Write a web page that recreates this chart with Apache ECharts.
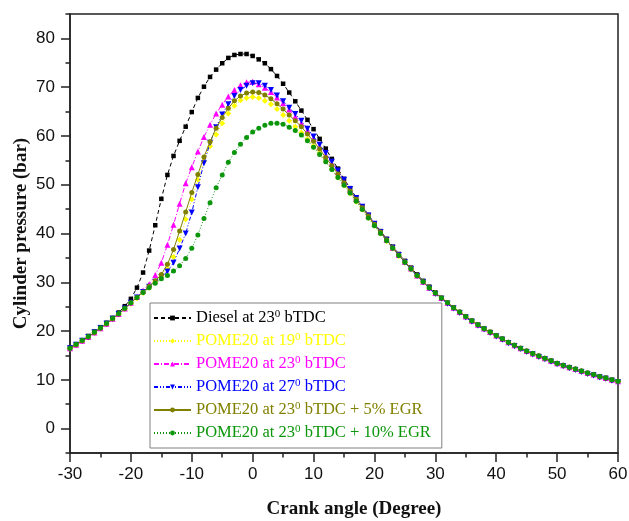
<!DOCTYPE html>
<html>
<head>
<meta charset="utf-8">
<script src="https://cdn.jsdelivr.net/npm/echarts@6/dist/echarts.min.js"></script>
<style>
  html, body { margin: 0; padding: 0; background: #fff; }
  #chart { width: 629px; height: 521px; }
</style>
</head>
<body>
<div id="chart"></div>
<script>
// Crank angle, degrees (one reading per degree)
var crankAngle = [
  -30, -29, -28, -27, -26, -25, -24, -23, -22, -21, -20, -19,
  -18, -17, -16, -15, -14, -13, -12, -11, -10, -9, -8, -7, -6, -5, -4, -3, -2, -1,
  0, 1, 2, 3, 4, 5, 6, 7, 8, 9, 10, 11, 12, 13, 14, 15, 16, 17, 18, 19, 20,
  21, 22, 23, 24, 25, 26, 27, 28, 29, 30,
  31, 32, 33, 34, 35, 36, 37, 38, 39, 40, 41, 42, 43, 44, 45,
  46, 47, 48, 49, 50, 51, 52, 53, 54, 55, 56, 57, 58, 59, 60
];

// Cylinder pressure, bar
var dieselInj23 = [
  16.6, 17.3, 18.1, 19.0, 19.9, 20.8, 21.7, 22.7, 23.8, 25.1, 26.6, 28.9,
  32.0, 36.5, 41.7, 47.1, 52.0, 55.9, 59.0, 61.9, 64.9, 67.8, 70.1, 72.1, 73.6, 74.9, 76.0, 76.6, 76.8, 76.8,
  76.4, 75.7, 74.9, 73.7, 72.3, 70.7, 68.9, 67.1, 65.2, 63.3, 61.4, 59.4, 57.4, 55.3, 53.3, 51.2, 49.3, 47.4, 45.6, 43.8, 42.1,
  40.5, 38.9, 37.3, 35.8, 34.4, 33.0, 31.6, 30.3, 29.1, 27.9,
  26.8, 25.8, 24.8, 23.9, 23.0, 22.1, 21.3, 20.5, 19.8, 19.1, 18.4, 17.7, 17.1, 16.5, 15.9,
  15.4, 14.9, 14.4, 13.9, 13.4, 13.0, 12.6, 12.2, 11.8, 11.4, 11.1, 10.7, 10.4, 10.0, 9.7
];
var pomeInj19 = [
  16.4, 17.1, 17.9, 18.7, 19.6, 20.5, 21.4, 22.4, 23.4, 24.5, 25.6, 26.7,
  27.8, 28.9, 30.0, 31.3, 32.8, 35.2, 38.7, 42.9, 47.0, 51.0, 54.8, 57.9, 60.3, 62.6, 64.6, 66.2, 67.3, 67.8,
  68.0, 67.8, 67.2, 66.5, 65.5, 64.3, 63.1, 61.9, 60.7, 59.3, 57.9, 56.4, 54.8, 53.2, 51.5, 49.9, 48.2, 46.5, 44.9, 43.2, 41.6,
  40.0, 38.4, 36.9, 35.4, 34.0, 32.6, 31.3, 30.0, 28.8, 27.7,
  26.7, 25.7, 24.7, 23.8, 22.9, 22.0, 21.2, 20.4, 19.7, 19.0, 18.3, 17.6, 17.0, 16.4, 15.8,
  15.3, 14.8, 14.3, 13.8, 13.3, 12.9, 12.5, 12.1, 11.7, 11.3, 11.0, 10.6, 10.3, 9.9, 9.6
];
var pomeInj23 = [
  16.5, 17.2, 18.0, 18.8, 19.7, 20.6, 21.5, 22.5, 23.5, 24.6, 25.8, 27.0,
  28.3, 29.6, 31.5, 34.0, 37.7, 41.8, 46.1, 50.3, 53.6, 56.8, 59.8, 62.3, 64.6, 66.4, 68.1, 69.4, 70.4, 71.0,
  71.1, 70.6, 69.9, 69.0, 67.9, 66.7, 65.4, 64.0, 62.6, 61.1, 59.5, 57.8, 56.1, 54.4, 52.6, 50.8, 49.0, 47.2, 45.4, 43.7, 42.0,
  40.3, 38.7, 37.1, 35.6, 34.2, 32.8, 31.4, 30.1, 28.9, 27.8,
  26.8, 25.8, 24.8, 23.9, 23.0, 22.1, 21.3, 20.5, 19.8, 19.1, 18.4, 17.7, 17.1, 16.5, 15.9,
  15.4, 14.9, 14.4, 13.9, 13.4, 13.0, 12.6, 12.2, 11.8, 11.4, 11.1, 10.7, 10.4, 10.0, 9.7
];
var pomeInj27 = [
  16.5, 17.2, 18.0, 18.8, 19.7, 20.6, 21.5, 22.5, 23.5, 24.6, 25.8, 26.9,
  28.0, 29.1, 30.1, 31.1, 32.2, 34.0, 36.9, 40.0, 44.3, 49.5, 54.4, 58.6, 61.8, 64.4, 66.5, 68.2, 69.4, 70.3,
  70.8, 70.8, 70.3, 69.4, 68.3, 67.1, 65.8, 64.5, 63.1, 61.5, 59.9, 58.2, 56.5, 54.7, 52.9, 51.0, 49.1, 47.3, 45.5, 43.7, 42.0,
  40.3, 38.7, 37.1, 35.6, 34.1, 32.7, 31.3, 30.0, 28.8, 27.6,
  26.6, 25.6, 24.6, 23.7, 22.8, 21.9, 21.1, 20.3, 19.6, 18.9, 18.2, 17.5, 16.9, 16.3, 15.7,
  15.2, 14.7, 14.2, 13.7, 13.2, 12.8, 12.4, 12.0, 11.6, 11.2, 10.9, 10.5, 10.2, 9.8, 9.5
];
var pomeEgr5 = [
  16.5, 17.2, 18.0, 18.8, 19.7, 20.6, 21.5, 22.5, 23.5, 24.6, 25.8, 26.9,
  28.0, 29.2, 30.3, 31.6, 33.7, 36.7, 40.5, 44.4, 48.4, 52.1, 55.7, 58.8, 61.6, 63.8, 65.7, 67.2, 68.2, 68.8,
  69.0, 68.9, 68.4, 67.6, 66.6, 65.5, 64.3, 63.1, 61.9, 60.4, 58.9, 57.3, 55.6, 53.9, 52.2, 50.4, 48.7, 47.0, 45.3, 43.6, 41.9,
  40.3, 38.7, 37.1, 35.6, 34.2, 32.8, 31.4, 30.1, 28.9, 27.8,
  26.8, 25.8, 24.8, 23.9, 23.0, 22.1, 21.3, 20.5, 19.8, 19.1, 18.4, 17.7, 17.1, 16.5, 15.9,
  15.4, 14.9, 14.4, 13.9, 13.4, 13.0, 12.6, 12.2, 11.8, 11.4, 11.1, 10.7, 10.4, 10.0, 9.7
];
var pomeEgr10 = [
  16.5, 17.3, 18.1, 18.9, 19.8, 20.7, 21.6, 22.6, 23.6, 24.7, 25.8, 26.9,
  27.9, 28.9, 29.8, 30.7, 31.4, 32.3, 33.4, 34.9, 37.0, 39.7, 43.1, 46.3, 49.4, 52.0, 54.6, 56.6, 58.3, 59.7,
  60.8, 61.6, 62.2, 62.6, 62.6, 62.4, 61.8, 61.1, 60.2, 59.0, 57.7, 56.2, 54.7, 53.1, 51.5, 49.9, 48.3, 46.6, 44.9, 43.2, 41.6,
  40.0, 38.5, 37.0, 35.5, 34.1, 32.7, 31.4, 30.1, 28.9, 27.8,
  26.8, 25.8, 24.8, 23.9, 23.0, 22.1, 21.3, 20.5, 19.8, 19.1, 18.4, 17.7, 17.1, 16.5, 15.9,
  15.4, 14.9, 14.4, 13.9, 13.4, 13.0, 12.6, 12.2, 11.8, 11.4, 11.1, 10.7, 10.4, 10.0, 9.7
];

var seriesNames = [
  'Diesel at 23^0 bTDC',
  'POME20 at 19^0 bTDC',
  'POME20 at 23^0 bTDC',
  'POME20 at 27^0 bTDC',
  'POME20 at 23^0 bTDC + 5% EGR',
  'POME20 at 23^0 bTDC + 10% EGR'
];
var yTickValues = [0, 10, 20, 30, 40, 50, 60, 70, 80];
var yMinorTickValues = [-5, 5, 15, 25, 35, 45, 55, 65, 75, 85];

function pairs(values) {
  return crankAngle.map(function (a, i) { return [a, values[i]]; });
}

var styles = [
  { data: dieselInj23, color: '#000000', symbol: 'rect', size: 4.5, dash: [4, 3] },
  { data: pomeInj19,   color: '#ffff00', symbol: 'diamond', size: 6, dash: [1, 2] },
  { data: pomeInj23,   color: '#ff00ff', symbol: 'triangle', size: 6, dash: [5, 2, 1, 2] },
  { data: pomeInj27,   color: '#0000ff', symbol: 'path://M0,0 L10,0 L5,9 Z', size: 6, dash: [4, 2, 1, 2, 1, 2] },
  { data: pomeEgr5,    color: '#808000', symbol: 'circle', size: 5, dash: 'solid' },
  { data: pomeEgr10,   color: '#0c960c', symbol: 'circle', size: 5, dash: [1, 2] }
];

var chart = echarts.init(document.getElementById('chart'), null, { renderer: 'canvas' });

var serifFont = "'Liberation Serif', 'Times New Roman', serif";
var sansFont = "'Liberation Sans', Arial, sans-serif";

chart.setOption({
  animation: false,
  backgroundColor: '#ffffff',
  grid: {
    left: 70, right: 11, top: 14, bottom: 68,
    outerBoundsMode: 'none',
    show: true, borderColor: '#222', borderWidth: 1.5, backgroundColor: 'transparent'
  },
  legend: {
    orient: 'vertical',
    left: 150, top: 303,
    padding: [6, 11, 6, 3],
    itemGap: 5,
    itemWidth: 37,
    itemHeight: 6,
    borderColor: '#808080',
    borderWidth: 1,
    data: seriesNames.map(function (n, i) {
      return { name: n, textStyle: { color: styles[i].color } };
    }),
    formatter: function (name) { return name.replace('^0', '{sup|0}'); },
    textStyle: {
      fontFamily: serifFont,
      fontSize: 16.5,
      lineHeight: 18,
      rich: {
        sup: { fontFamily: serifFont, fontSize: 11, lineHeight: 11, verticalAlign: 'top' }
      }
    }
  },
  xAxis: [{
    type: 'value',
    min: -30, max: 60, interval: 10,
    name: 'Crank angle (Degree)',
    nameLocation: 'middle',
    nameGap: 47,
    nameMoveOverlap: false,
    nameTextStyle: { fontFamily: serifFont, fontSize: 19, fontWeight: 'bold', color: '#111', padding: [0, 0, 0, 20] },
    axisLine: { show: true, onZero: false, lineStyle: { color: '#222', width: 1.5 } },
    axisTick: { show: true, inside: false, length: 9, lineStyle: { color: '#222', width: 1.5 } },
    minorTick: { show: true, splitNumber: 2, length: 4.5, lineStyle: { color: '#222', width: 1.5 } },
    axisLabel: { fontFamily: sansFont, fontSize: 17, color: '#111', margin: 13 },
    splitLine: { show: false },
    minorSplitLine: { show: false }
  }],
  yAxis: [{
    type: 'value',
    min: -5, max: 85,
    name: 'Cylinder pressure (bar)',
    nameLocation: 'middle',
    nameGap: 39,
    nameMoveOverlap: false,
    nameTextStyle: { fontFamily: serifFont, fontSize: 19, fontWeight: 'bold', color: '#111' },
    axisLine: { show: true, onZero: false, lineStyle: { color: '#222', width: 1.5 } },
    axisTick: { show: true, inside: false, length: 9, customValues: yTickValues, lineStyle: { color: '#222', width: 1.5 } },
    axisLabel: { fontFamily: sansFont, fontSize: 17, color: '#111', margin: 15, customValues: yTickValues },
    splitLine: { show: false }
  }, {
    type: 'value',
    min: -5, max: 85,
    position: 'left',
    axisLine: { show: false, onZero: false },
    axisTick: { show: true, inside: false, length: 4.5, customValues: yMinorTickValues, lineStyle: { color: '#222', width: 1.5 } },
    axisLabel: { show: false },
    splitLine: { show: false }
  }],
  series: styles.map(function (s, i) {
    return {
      type: 'line',
      name: seriesNames[i],
      data: pairs(s.data),
      showSymbol: true,
      showAllSymbol: true,
      symbol: s.symbol,
      symbolSize: s.size,
      smooth: false,
      clip: false,
      itemStyle: { color: s.color, borderWidth: 0 },
      lineStyle: { color: s.color, width: 1, type: s.dash },
      z: 2 + i
    };
  })
});
</script>
</body>
</html>
